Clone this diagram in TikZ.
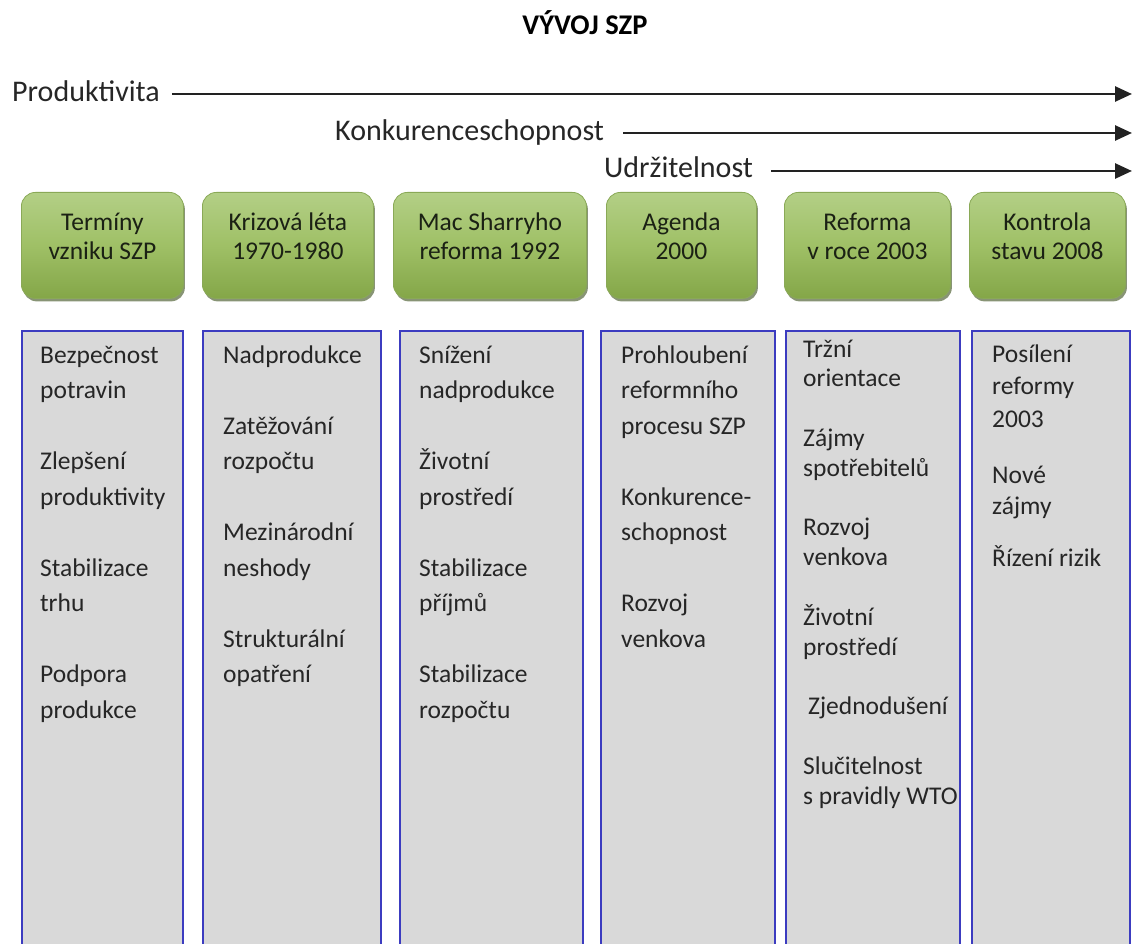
\documentclass[tikz,border=0pt]{standalone}
\usepackage{fontspec}
\setmainfont{Carlito}
\usetikzlibrary{arrows.meta,shadows}

\definecolor{colfill}{HTML}{D9D9D9}
\definecolor{colline}{HTML}{3C3CC0}
\definecolor{hdrtop}{HTML}{B3CF86}
\definecolor{hdrmid}{HTML}{9FC066}
\definecolor{hdrbot}{HTML}{84A648}
\definecolor{hdredge}{HTML}{8AA957}
\definecolor{hdrshadow}{HTML}{55673A}
\definecolor{hdrink}{HTML}{1B2114}
\definecolor{ink}{HTML}{262626}
\definecolor{arrowink}{HTML}{222222}

\begin{document}
\begin{tikzpicture}[x=1pt,y=-1pt,
  colbox/.style={draw=colline, line width=1.5pt, fill=colfill, rectangle,
    inner sep=0pt, anchor=north west, minimum height=640pt},
  hdrbox/.style={rectangle, rounded corners=14pt, draw=hdredge, line width=0.8pt,
    top color=hdrtop, bottom color=hdrbot, middle color=hdrmid,
    inner sep=0pt, anchor=north west, minimum height=106pt,
    drop shadow={shadow xshift=1.5pt, shadow yshift=-3pt, fill=hdrshadow, opacity=.7}},
  hdrtext/.style={align=center, font=\fontsize{25.5}{29}\selectfont, text=hdrink,
    inner sep=0pt, yshift=9pt},
  item/.style={anchor=base west, inner sep=0pt, font=\fontsize{25.5}{30}\selectfont, text=ink},
  trend/.style={anchor=base west, inner sep=0pt, font=\fontsize{30}{36}\selectfont, text=ink},
  trendline/.style={draw=arrowink, line width=2.7pt, -{Triangle[length=17pt,width=15pt]}},
]
\useasboundingbox (0,0) rectangle (1133,944);
\clip (0,0) rectangle (1133,944);

% title
\node[anchor=base, inner sep=0pt, font=\bfseries\fontsize{28.5}{34}\selectfont, text=black]
  (title) at (585,35) {VÝVOJ SZP};

% trend labels and their arrows
\node[trend] (prod) at (12,102) {Produktivita};
\node[trend] (konk) at (335,141) {Konkurenceschopnost};
\node[trend] (udrz) at (604,178) {Udržitelnost};
\coordinate (prodend) at (1132,94);
\coordinate (konkend) at (1132,133);
\coordinate (udrzend) at (1132,171);
\draw[trendline, shorten <=12pt] (prod.east |- prodend) -- (prodend);
\draw[trendline, shorten <=19pt] (konk.east |- konkend) -- (konkend);
\draw[trendline, shorten <=18pt] (udrz.east |- udrzend) -- (udrzend);

% period headers
\node[hdrbox, minimum width=162pt] (h1) at (21,192) {};
\node[hdrbox, minimum width=171pt] (h2) at (202,192) {};
\node[hdrbox, minimum width=193pt] (h3) at (393,192) {};
\node[hdrbox, minimum width=150pt] (h4) at (606,192) {};
\node[hdrbox, minimum width=166pt] (h5) at (784,192) {};
\node[hdrbox, minimum width=156pt] (h6) at (969,192) {};
\node[hdrtext] (t1) at (h1.center) {Termíny\\vzniku SZP};
\node[hdrtext] (t2) at (h2.center) {Krizová léta\\1970-1980};
\node[hdrtext] (t3) at (h3.center) {Mac Sharryho\\reforma 1992};
\node[hdrtext] (t4) at (h4.center) {Agenda\\2000};
\node[hdrtext] (t5) at (h5.center) {Reforma\\v roce 2003};
\node[hdrtext] (t6) at (h6.center) {Kontrola\\stavu 2008};

% content columns
\node[colbox, minimum width=161pt] (col1) at (21,330) {};
\node[colbox, minimum width=178pt] (col2) at (202,330) {};
\node[colbox, minimum width=183pt] (col3) at (399,330) {};
\node[colbox, minimum width=174pt] (col4) at (600,330) {};
\node[colbox, minimum width=174pt] (col5) at (785,330) {};
\node[colbox, minimum width=158pt] (col6) at (971,330) {};

% column texts: line text / line index
\foreach \t/\k in {Bezpečnost/0, potravin/1, Zlepšení/3, produktivity/4,
                   Stabilizace/6, trhu/7, Podpora/9, produkce/10}
  \node[item, name=c1-\k] at (40, {363+\k*35.5}) {\t};

\foreach \t/\k in {Nadprodukce/0, Zatěžování/2, rozpočtu/3, Mezinárodní/5,
                   neshody/6, Strukturální/8, opatření/9}
  \node[item, name=c2-\k] at (223, {363+\k*35.5}) {\t};

\foreach \t/\k in {Snížení/0, nadprodukce/1, Životní/3, prostředí/4,
                   Stabilizace/6, příjmů/7, Stabilizace/9, rozpočtu/10}
  \node[item, name=c3-\k] at (419, {363+\k*35.5}) {\t};

\foreach \t/\k in {Prohloubení/0, reformního/1, procesu SZP/2, Konkurence-/4,
                   schopnost/5, Rozvoj/7, venkova/8}
  \node[item, name=c4-\k] at (621, {363+\k*35.5}) {\t};

\foreach \t/\k in {Tržní/0, orientace/1, Zájmy/3, spotřebitelů/4, Rozvoj/6,
                   venkova/7, Životní/9, prostředí/10, Slučitelnost/14,
                   s pravidly WTO/15}
  \node[item, name=c5-\k] at (803, {357+\k*29.8}) {\t};
\node[item] (c5-12) at (808, {357+12*29.8}) {Zjednodušení};

\foreach \t/\k/\n in {Posílení/0/a, reformy/1/b, 2003/2/c, Nové/3.75/d,
                      zájmy/4.7/e, Řízení rizik/6.3/f}
  \node[item, name=c6-\n] at (992, {362+\k*32.5}) {\t};

\end{tikzpicture}
\end{document}
